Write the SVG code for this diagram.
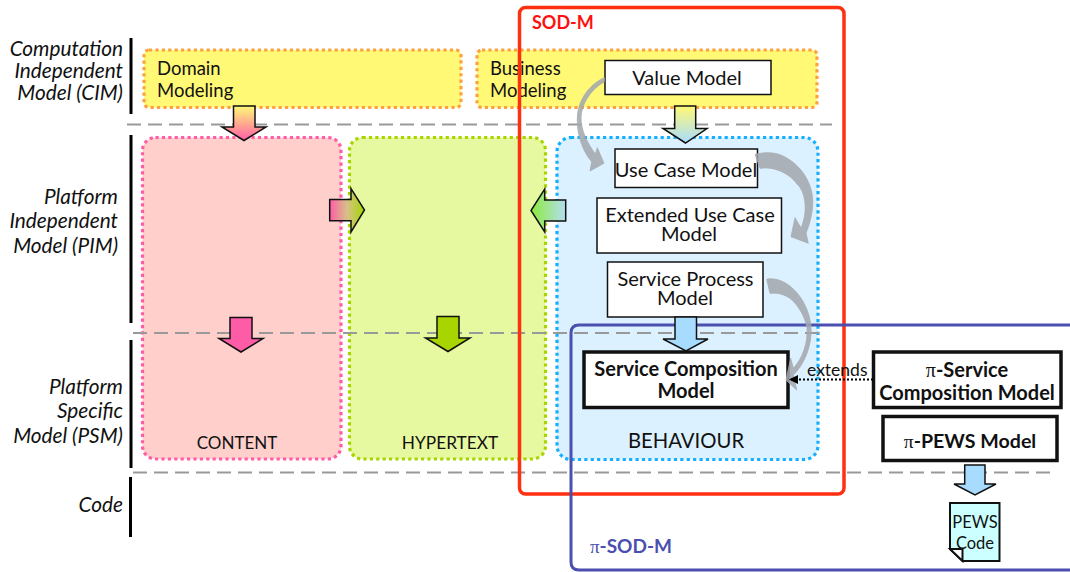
<svg xmlns="http://www.w3.org/2000/svg" width="1070" height="572" viewBox="0 0 1070 572">
<style>
text{font-family:"Lato","Open Sans","Liberation Sans",sans-serif;fill:#111}
.lv{font-size:20.800px;font-style:italic;text-anchor:end}
.c{text-anchor:middle}
.t{font-size:18.500px}
.m{font-size:20px}
.b{font-size:20px;font-weight:700}
.pi{font-family:"Liberation Serif","DejaVu Serif",serif;font-weight:400}
.box{fill:#fff;stroke:#111;stroke-width:1.500}
.bbox{fill:#fff;stroke:#111;stroke-width:3.500}
.bar{stroke:#000;stroke-width:3;fill:none}
.dash{stroke:#999;stroke-width:2;stroke-dasharray:14 7;fill:none}
.blk{stroke:#111;stroke-width:1.500}
.dot{stroke-width:3.200;stroke-dasharray:3.200 3.200}
.cur{fill:#a2a6ac;stroke:#a8acb0;stroke-width:.8;fill-opacity:.85}
</style>
<defs>
<linearGradient id="g1" x1="0" y1="0" x2="0" y2="1"><stop offset="0" stop-color="#fff976"/><stop offset="1" stop-color="#ff5ca8"/></linearGradient>
<linearGradient id="g2" x1="0" y1="0" x2="1" y2="0"><stop offset="0" stop-color="#ff5ca8"/><stop offset=".5" stop-color="#d8c088"/><stop offset="1" stop-color="#a0d800"/></linearGradient>
<linearGradient id="g3" x1="0" y1="0" x2="1" y2="0"><stop offset="0" stop-color="#8cea3c"/><stop offset="1" stop-color="#b4def0"/></linearGradient>
<linearGradient id="g4" x1="0" y1="0" x2="0" y2="1"><stop offset="0" stop-color="#fff976"/><stop offset="1" stop-color="#a8dcff"/></linearGradient>
<marker id="ah" markerWidth="9" markerHeight="9" refX="8" refY="4.500" orient="auto" markerUnits="userSpaceOnUse"><path d="M0 0L9 4.500L0 9Z" fill="#000"/></marker>
</defs>

<g id="levels">
<path class="bar" d="M131 38V114M131 135V323M131 340V468M130.500 477V537"/>
<text class="lv" x="123" y="56">Computation</text>
<text class="lv" x="123" y="78">Independent</text>
<text class="lv" x="123" y="100">Model (CIM)</text>
<text class="lv" x="118" y="204">Platform</text>
<text class="lv" x="118" y="228">Independent</text>
<text class="lv" x="118" y="253">Model (PIM)</text>
<text class="lv" x="123" y="394">Platform</text>
<text class="lv" x="123" y="418">Specific</text>
<text class="lv" x="123" y="443">Model (PSM)</text>
<text class="lv" x="123" y="512">Code</text>
</g>

<g id="domain-modeling">
<rect class="dot" x="144" y="50" width="317" height="57.500" rx="5" fill="#fff976" stroke="#ffa040"/>
<text class="t" x="157" y="75">Domain</text><text class="t" x="157" y="97">Modeling</text>
</g>
<g id="business-modeling">
<rect class="dot" x="477" y="50" width="340" height="57.500" rx="5" fill="#fff976" stroke="#ffa040"/>
<text class="t" x="490" y="75">Business</text><text class="t" x="490" y="97">Modeling</text>
</g>
<g id="content">
<rect class="dot" x="142.500" y="137.500" width="198.500" height="321.500" rx="13" fill="#ffcfcb" stroke="#ff5ca8"/>
<text class="c" x="237" y="449" font-size="17">CONTENT</text>
</g>
<g id="hypertext">
<rect class="dot" x="349.500" y="137.500" width="196" height="321.500" rx="13" fill="#e6f9a0" stroke="#a8d400"/>
<text class="c" x="450" y="449" font-size="17.300">HYPERTEXT</text>
</g>
<g id="behaviour">
<rect class="dot" x="557" y="137.500" width="261" height="322" rx="14" fill="#dcf1ff" stroke="#14b0ff"/>
<text class="c" x="686" y="448" font-size="20.300">BEHAVIOUR</text>
</g>

<g id="separators">
<path class="dash" d="M127 124.500H832M133 333H822M133 472.500H1050"/>
</g>

<g id="sod-m">
<rect x="519.500" y="7.500" width="324.500" height="486.500" rx="6" fill="none" stroke="#ff3010" stroke-width="3.500"/>
<text x="532" y="29" font-size="18" font-weight="700" style="fill:#ff1010">SOD-M</text>
</g>
<g id="pi-sod-m">
<path d="M1072 325H579Q571 325 571 333V562Q571 570 579 570H1072" fill="none" stroke="#4a4fb0" stroke-width="3"/>
<text x="590" y="553" font-size="19" font-weight="700" style="fill:#4a4fb0"><tspan class="pi" style="fill:#4a4fb0">π</tspan>-SOD-M</text>
</g>

<g id="value-model">
<rect class="box" x="605" y="60.500" width="166" height="34"/>
<text class="c m" x="687" y="85">Value Model</text>
</g>
<g id="use-case-model">
<rect class="box" x="615" y="149" width="142.500" height="38.500"/>
<text class="c m" x="686" y="177">Use Case Model</text>
</g>
<g id="extended-use-case-model">
<rect class="box" x="597" y="198" width="184.500" height="55"/>
<text class="c m" x="690" y="222">Extended Use Case</text><text class="c m" x="689" y="241">Model</text>
</g>
<g id="service-process-model">
<rect class="box" x="607.500" y="262" width="155.500" height="55"/>
<text class="c m" x="685.500" y="286">Service Process</text><text class="c m" x="685" y="305">Model</text>
</g>
<g id="service-composition-model">
<rect class="bbox" x="584" y="352" width="204" height="55.500"/>
<text class="c b" x="686" y="376">Service Composition</text><text class="c b" x="686" y="398">Model</text>
</g>
<g id="pi-service-composition-model">
<rect class="bbox" x="873.500" y="352" width="187.500" height="55.500"/>
<text class="c b" x="967" y="377"><tspan class="pi">π</tspan>-Service</text><text class="c b" x="967" y="400">Composition Model</text>
</g>
<g id="pi-pews-model">
<rect class="bbox" x="883" y="416.500" width="174" height="44"/>
<text class="c" x="970" y="448" font-size="19.600" font-weight="700"><tspan class="pi">π</tspan>-PEWS Model</text>
</g>
<g id="pews-code">
<path d="M950 503H999.500V561H962.500L950 549Z" fill="#ccffff" stroke="#111" stroke-width="2"/>
<path d="M950 549H962.500V561Z" fill="#fff" stroke="#111" stroke-width="2"/>
<text class="c" x="975" y="528" font-size="16.500">PEWS</text><text class="c" x="975" y="549" font-size="16.500">Code</text>
</g>

<g id="connectors">
<path class="blk" fill="url(#g1)" d="M233.500 106H255V127H266L244 140.500L222 127H233.500Z"/>
<path class="blk" fill="url(#g2)" d="M329.700 199.500H351V188.700L364.500 210L351 232V220.700H329.700Z"/>
<path class="blk" fill="url(#g3)" d="M565.700 200H544.700V189L531 210.500L544.700 232V221H565.700Z"/>
<path class="blk" fill="url(#g4)" d="M674.700 106H695.700V128.500H707L685.500 143L663 128.500H674.700Z"/>
<path class="blk" fill="#a8dcff" d="M675 317H696.500V339H708L686 351L663 339H675Z"/>
<path class="blk" fill="#ff5ca8" d="M230 317.500H252V338.500H263L241 352L219 338.500H230Z"/>
<path class="blk" fill="#a8d400" d="M437 316.500H459V338H470L448 351.500L425.500 338H437Z"/>
<path class="blk" fill="#a8dcff" d="M964.700 465H985V484H996L975 495L954 484H964.700Z"/>
<path class="cur" d="M604.300 77.700C590 84 577 100 577.300 120C577 135 583 152 591.700 161.700L590 171L604 163.300L597.300 147.700L595.500 154C587 143 581 130 581 118C581 105 590 90 604.300 81.700Z"/>
<path class="cur" d="M755 154.300C765 152 775 152 783 156C802 165 814 185 812.700 205C812 216 809 226 806 233L808.300 243.300L791 236.700L795 217.700L801 228C808 212 806 192 797 184C790 174 775 166 760 168.300Z"/>
<path class="cur" d="M766.700 279.300C777 277 790 283 800 296.700C808 308 812 322 811 335C810 350 803 366 793.300 375L796.700 390L786 380L790.700 358.300L793.300 368.300C803 358 808 342 807 328C805 315 795 300 786 296C780 293 775 293 770 293.300Z"/>
<path d="M873 379.500H790" fill="none" stroke="#000" stroke-width="2" stroke-dasharray="2 2" marker-end="url(#ah)"/>
<text x="807" y="376" font-size="17.500">extends</text>
</g>
</svg>
